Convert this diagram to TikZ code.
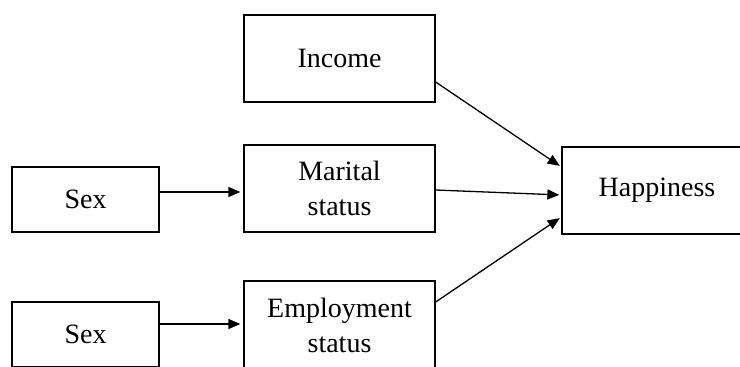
\documentclass[tikz,border=0pt]{standalone}
\usepackage{fontspec}
\setmainfont{Liberation Serif}
\usetikzlibrary{arrows.meta}

\begin{document}
\begin{tikzpicture}[x=1pt,y=-1pt]
\tikzstyle{every node}=[draw,line width=1.3pt,rectangle,align=center,font=\fontsize{28}{35}\selectfont];
\tikzstyle{link}=[line width=1.3pt,-{Triangle[length=12pt,width=10pt]}];
\clip (0,0) rectangle (740,367);
\useasboundingbox (0,0) rectangle (740,367);
% left column
\node[minimum width=147pt,minimum height=65pt] (sexa) at (85.5,199.5) {Sex};
\node[minimum width=147pt,minimum height=65pt] (sexb) at (85.5,334.5) {Sex};
% middle column
\node[minimum width=191pt,minimum height=87pt] (income) at (339.5,58.5) {Income};
\node[minimum width=191pt,minimum height=87pt] (marital) at (339.5,188.5) {Marital\\status};
\node[minimum width=191pt,minimum height=88pt] (employ) at (339.5,325) {Employment\\status};
% outcome, right edge runs off the page
\node[minimum width=210pt,minimum height=87pt] (happy) at (667,190.5) {\hspace*{-20pt}Happiness};
% arrows
\draw[link,shorten >=3pt] ([yshift=7.5pt]sexa.east) -- ([yshift=-3.5pt]marital.west);
\draw[link,shorten >=3pt] ([yshift=10.5pt]sexb.east) -- ([yshift=1pt]employ.west);
\draw[link,shorten >=2pt] ([yshift=-23.5pt]income.east) -- ([yshift=23.5pt]happy.west);
\draw[link,shorten >=2pt] ([yshift=-1.5pt]marital.east) -- ([yshift=-4.5pt]happy.west);
\draw[link,shorten >=2pt] ([yshift=23pt]employ.east) -- ([yshift=-26.5pt]happy.west);
\end{tikzpicture}
\end{document}
